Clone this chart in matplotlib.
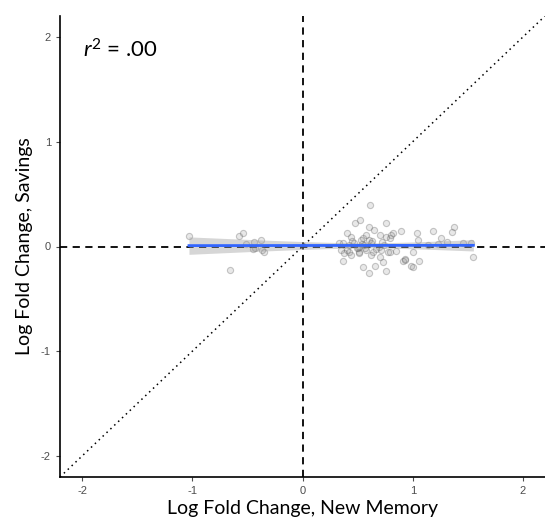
import numpy as np
import matplotlib
matplotlib.use("Agg")
import matplotlib.pyplot as plt

plt.rcParams['font.family'] = ['Lato', 'DejaVu Sans']
plt.rcParams['mathtext.fontset'] = 'custom'
plt.rcParams['mathtext.rm'] = 'Lato'
plt.rcParams['mathtext.it'] = 'Lato:italic'
plt.rcParams['axes.unicode_minus'] = False

# log fold change values
new_memory = [
    -1.03, -0.58, -0.54, -0.51, -0.44, -0.43, -0.38, -0.45, -0.37, -0.35, -0.66,
    0.48, 0.52, 0.60, 0.65, 0.76, 0.82, 0.89, 0.40, 0.44, 0.55, 0.58, 0.60, 0.70,
    0.76, 0.79, 0.80,
    0.33, 0.37, 0.42, 0.47, 0.51, 0.56, 0.62, 0.69, 0.74,
    0.35, 0.40, 0.42, 0.49, 0.51, 0.58, 0.64, 0.71, 0.78, 0.85,
    0.38, 0.44, 0.51, 0.62, 0.70,
    0.37, 0.55, 0.66, 0.73, 0.60, 0.76, 0.91, 0.93, 0.61,
    1.04, 1.18, 1.37, 1.36, 1.26, 1.31, 1.05, 1.14, 1.23, 1.00, 1.06, 0.98,
    1.00, 1.55, 1.46, 1.53, 0.79, 0.93,
    0.45, 0.53, 0.57, 0.63, 0.67, 0.50, 0.72, 0.54,
]
savings = [
    0.10, 0.10, 0.13, 0.02, 0.04, -0.01, 0.06, -0.02, -0.03, -0.05, -0.22,
    0.22, 0.25, 0.19, 0.16, 0.22, 0.13, 0.15, 0.13, 0.09, 0.08, 0.11, 0.06, 0.11,
    0.09, 0.08, 0.11,
    0.03, 0.03, 0.01, 0.03, 0.00, 0.01, 0.03, 0.00, 0.01,
    -0.03, -0.03, -0.05, -0.01, -0.05, -0.03, -0.05, -0.03, -0.05, -0.04,
    -0.06, -0.08, -0.06, -0.08, -0.10,
    -0.14, -0.20, -0.19, -0.15, -0.25, -0.23, -0.14, -0.12, 0.40,
    0.13, 0.15, 0.19, 0.14, 0.08, 0.04, 0.06, 0.01, 0.02, -0.05, -0.14, -0.19,
    -0.20, -0.10, 0.03, 0.03, -0.05, -0.13,
    0.05, 0.06, -0.01, 0.05, -0.02, -0.01, 0.04, 0.02,
]

x = np.array(new_memory)
y = np.array(savings)

fig = plt.figure(figsize=(5.45, 5.30), dpi=100)
ax = fig.add_axes([60 / 545, 53 / 530, 485 / 545, 461 / 530])

lim = 2.2
ax.plot([-lim, lim], [-lim, lim], color='black', ls=(0, (1, 2.5)), lw=1.1)
ax.axhline(0, color='black', ls=(0, (4, 3)), lw=1.3)
ax.axvline(0, color='black', ls=(0, (4, 3)), lw=1.3)

ax.scatter(x, y, s=20, facecolor=(0.5, 0.5, 0.5, 0.18),
           edgecolor=(0.4, 0.4, 0.4, 0.35), linewidth=0.8, zorder=3)

# linear fit with 95% band
n = len(x)
slope, intercept = np.polyfit(x, y, 1)
xs = np.linspace(x.min(), x.max(), 100)
fit = intercept + slope * xs
resid = y - (intercept + slope * x)
s_err = np.sqrt(np.sum(resid ** 2) / (n - 2))
se = s_err * np.sqrt(1 / n + (xs - x.mean()) ** 2 / np.sum((x - x.mean()) ** 2))
ax.fill_between(xs, fit - 1.99 * se, fit + 1.99 * se, color='#999999', alpha=0.4,
                lw=0, zorder=4)
ax.plot(xs, fit, color='#3366FF', lw=2, zorder=5)

ax.set_xlim(-lim, lim)
ax.set_ylim(-lim, lim)
ax.set_xticks([-2, -1, 0, 1, 2])
ax.set_yticks([-2, -1, 0, 1, 2])
ax.tick_params(colors='#4d4d4d', labelsize=8, length=3, width=0.8)
for lab in ax.get_xticklabels() + ax.get_yticklabels():
    lab.set_family('Liberation Sans')
for side in ['top', 'right']:
    ax.spines[side].set_visible(False)
for side in ['left', 'bottom']:
    ax.spines[side].set_linewidth(1.2)

ax.set_xlabel('Log Fold Change, New Memory', fontsize=14, labelpad=3)
ax.set_ylabel('Log Fold Change, Savings', fontsize=14, labelpad=6)
ax.text(-1.99, 1.88, r'$\mathit{r}^2$ = .00', fontsize=16, va='center')

fig.savefig('out.png', dpi=100)
